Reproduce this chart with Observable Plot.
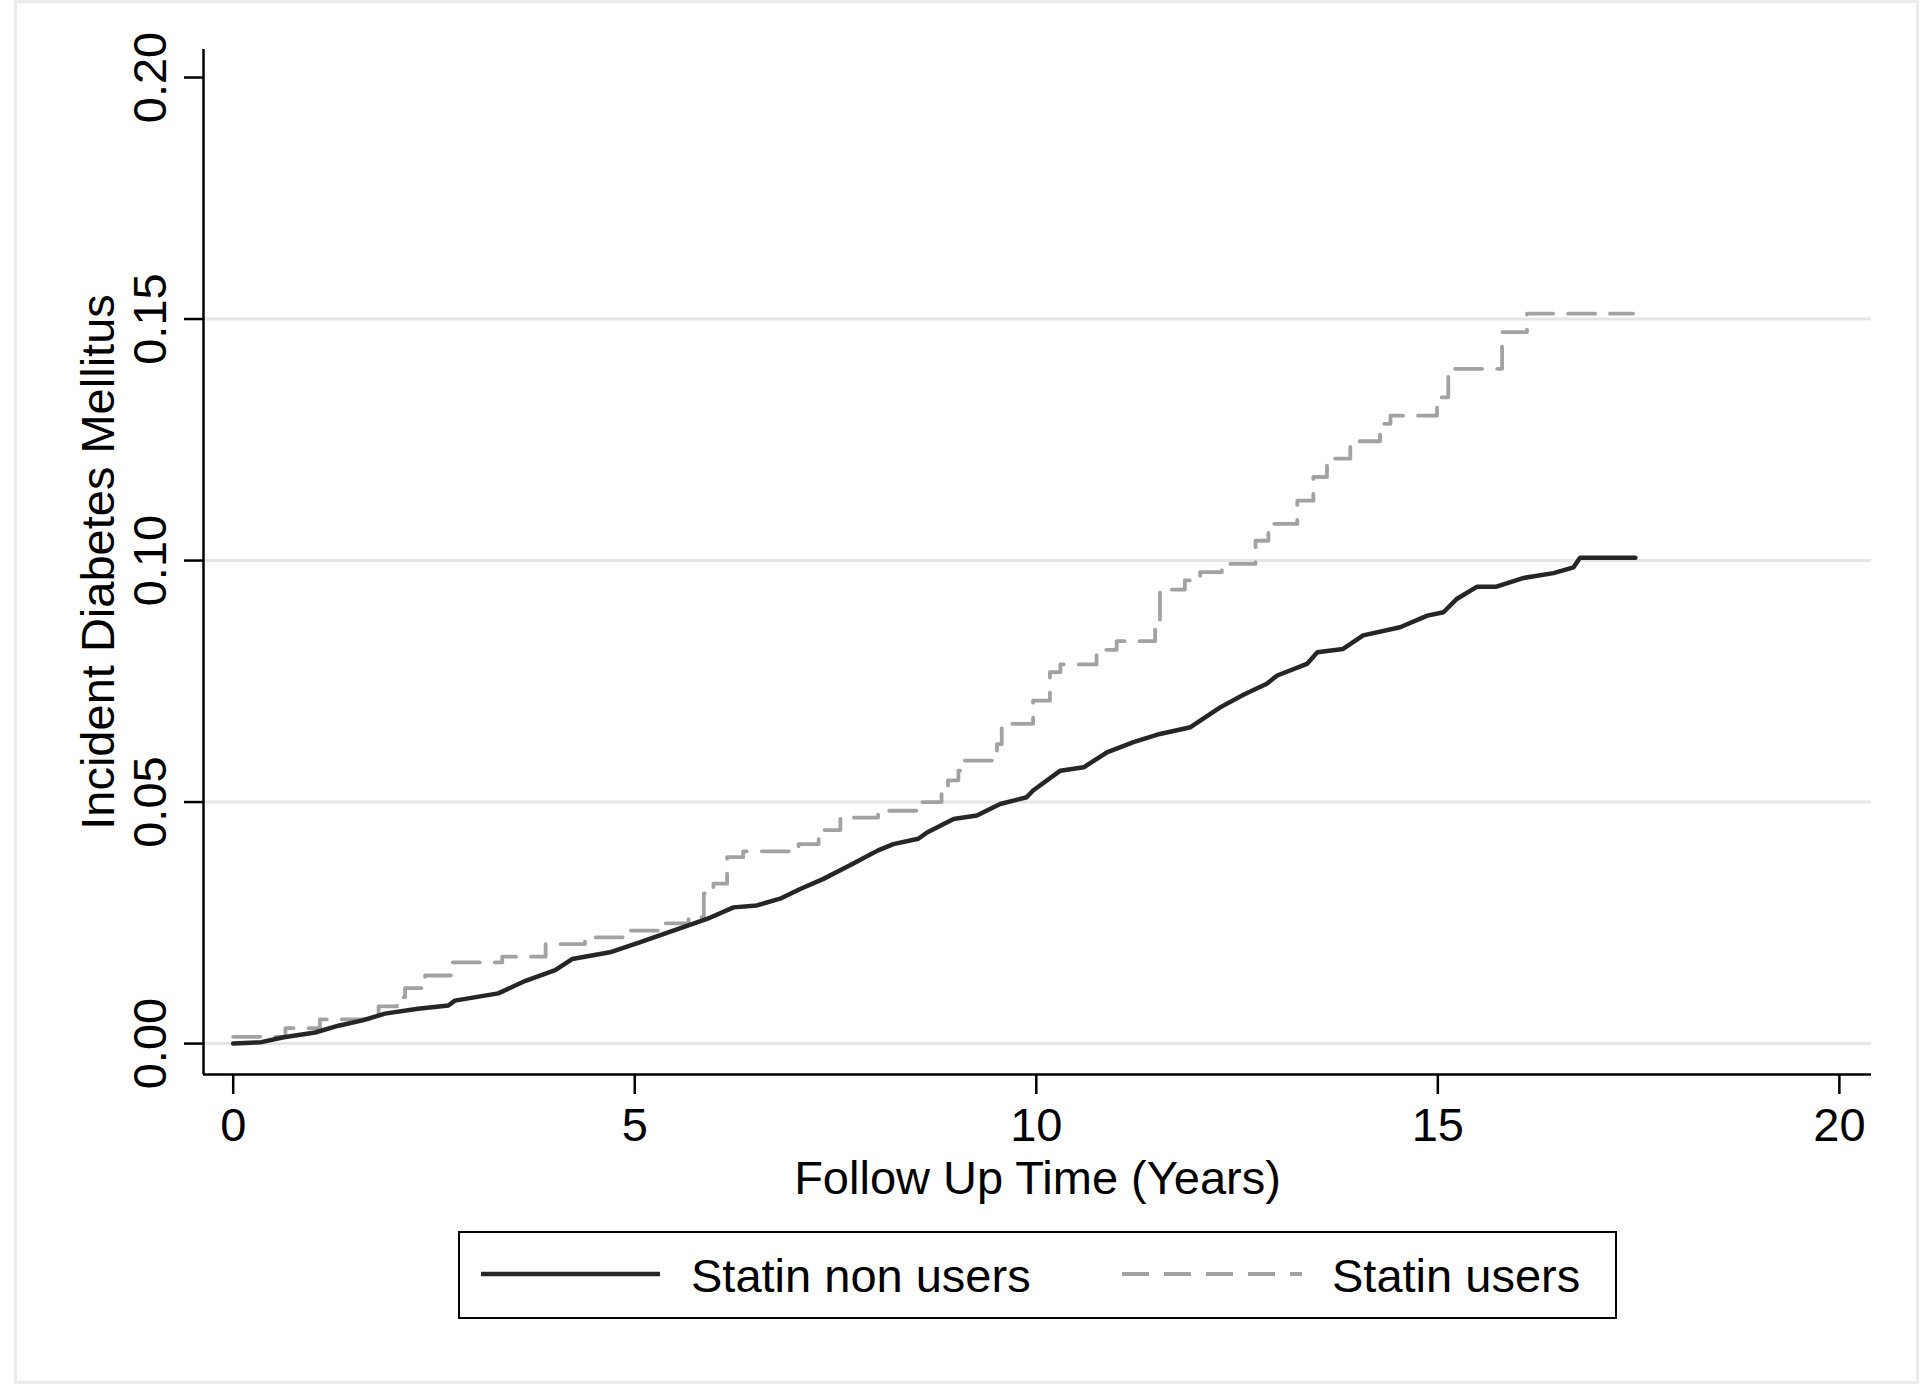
<!DOCTYPE html>
<html>
<head>
<meta charset="utf-8">
<script src="https://cdn.jsdelivr.net/npm/d3@7"></script>
<script src="https://cdn.jsdelivr.net/npm/@observablehq/plot@0.6"></script>
<style>
  html, body { margin: 0; padding: 0; background: #fff; }
  #wrap { position: relative; width: 1920px; height: 1385px; font-family: "Liberation Sans", Arial, Helvetica, sans-serif; }
  #border { position: absolute; left: 14px; top: 0px; width: 1905px; height: 1384px; border: 3px solid #ebebeb; box-sizing: border-box; pointer-events: none; }
  #legend { position: absolute; left: 458px; top: 1231px; width: 1159px; height: 88px; border: 2.5px solid #000; box-sizing: border-box; background: #fff; }
  #legend svg { position: absolute; left: 0; top: 0; }
</style>
</head>
<body>
<div id="wrap">
  <div id="chart"></div>
  <div id="border"></div>
  <div id="legend"></div>
</div>
<script>
// ---- Data ----
const seriesNames = ["Statin non users", "Statin users"];

// Statin non users: cumulative incidence
const nonUsersTime = [0, 0.35, 0.63, 1.02, 1.31, 1.61, 1.89, 2.30, 2.68, 2.76, 3.30, 3.64, 4.01, 4.22, 4.69, 5.07, 5.48, 5.90, 6.23, 6.52, 6.81, 7.06, 7.35, 7.68, 8.03, 8.22, 8.53, 8.64, 8.97, 9.26, 9.55, 9.88, 9.96, 10.30, 10.59, 10.88, 11.21, 11.54, 11.92, 12.29, 12.58, 12.87, 13.00, 13.37, 13.50, 13.82, 14.07, 14.53, 14.87, 15.07, 15.24, 15.49, 15.73, 16.07, 16.44, 16.69, 16.77, 17.46];
const nonUsersValue = [0, 0.0003, 0.0013, 0.0023, 0.0037, 0.0048, 0.0062, 0.0072, 0.0079, 0.0089, 0.0104, 0.0130, 0.0152, 0.0175, 0.0189, 0.0210, 0.0234, 0.0258, 0.0282, 0.0286, 0.0300, 0.0320, 0.0341, 0.0369, 0.0400, 0.0413, 0.0424, 0.0437, 0.0465, 0.0472, 0.0496, 0.0510, 0.0524, 0.0565, 0.0572, 0.0603, 0.0624, 0.0641, 0.0655, 0.0696, 0.0722, 0.0745, 0.0762, 0.0786, 0.0810, 0.0817, 0.0845, 0.0862, 0.0886, 0.0893, 0.0921, 0.0946, 0.0946, 0.0964, 0.0974, 0.0986, 0.1006, 0.1006];

// Statin users (step function)
const usersTime = [0, 0.65, 1.08, 1.81, 2.04, 2.14, 2.39, 2.72, 3.35, 3.89, 4.38, 4.94, 5.34, 5.67, 5.86, 5.98, 6.15, 6.35, 7.04, 7.29, 7.56, 8.03, 8.58, 8.82, 8.90, 9.03, 9.07, 9.51, 9.57, 9.96, 10.17, 10.30, 10.75, 11.00, 11.48, 11.54, 11.85, 12.04, 12.31, 12.73, 12.89, 13.25, 13.45, 13.62, 13.91, 14.28, 14.41, 14.99, 15.13, 15.80, 16.11, 17.43];
const usersValue = [0.0014, 0.0032, 0.0050, 0.0077, 0.0096, 0.0115, 0.0141, 0.0168, 0.0180, 0.0206, 0.0220, 0.0234, 0.0249, 0.0262, 0.0311, 0.0331, 0.0386, 0.0398, 0.0413, 0.0442, 0.0468, 0.0482, 0.0500, 0.0531, 0.0545, 0.0565, 0.0586, 0.0620, 0.0662, 0.0710, 0.0769, 0.0785, 0.0815, 0.0833, 0.0870, 0.0940, 0.0959, 0.0976, 0.0993, 0.1041, 0.1076, 0.1124, 0.1173, 0.1211, 0.1247, 0.1283, 0.1300, 0.1338, 0.1397, 0.1473, 0.1511, 0.1511];

const xTicks = [0, 5, 10, 15, 20];
const yTicks = [0, 0.05, 0.10, 0.15, 0.20];
const yGrid = [0, 0.05, 0.10, 0.15];
const xTitle = "Follow Up Time (Years)";
const yTitle = "Incident Diabetes Mellitus";

// ---- Styling ----
const xDomain = [-0.37, 20.4];
const yDomain = [-0.0064, 0.2058];
const styles = {
  "Statin non users": {stroke: "#262626", width: 4.5, dash: null},
  "Statin users": {stroke: "#a2a2a2", width: 3.8, dash: "27,15"}
};
const FONT = "'Liberation Sans', Arial, Helvetica, sans-serif";

const nonUsers = nonUsersTime.map((t, i) => ({t, v: nonUsersValue[i], s: seriesNames[0]}));
const users = usersTime.map((t, i) => ({t, v: usersValue[i], s: seriesNames[1]}));

const chart = Plot.plot({
  width: 1920,
  height: 1385,
  marginLeft: 203,
  marginRight: 49,
  marginTop: 49,
  marginBottom: 311,
  style: {fontFamily: FONT, fontSize: "47px", color: "#000", background: "transparent", overflow: "visible"},
  x: {domain: xDomain},
  y: {domain: yDomain},
  marks: [
    Plot.gridY(yGrid, {stroke: "#e6e6e6", strokeOpacity: 1, strokeWidth: 3}),
    Plot.ruleX([xDomain[0]], {stroke: "#000", strokeWidth: 2.5}),
    Plot.ruleY([yDomain[0]], {stroke: "#000", strokeWidth: 2.5}),
    Plot.line(users, {x: "t", y: "v", curve: "step-after", stroke: styles["Statin users"].stroke, strokeWidth: styles["Statin users"].width, strokeDasharray: styles["Statin users"].dash}),
    Plot.line(nonUsers, {x: "t", y: "v", curve: "linear", stroke: styles["Statin non users"].stroke, strokeWidth: styles["Statin non users"].width, strokeLinejoin: "miter"}),
    Plot.axisX(xTicks, {
      tickSize: 20, tickPadding: 13, strokeWidth: 2.5, fontSize: 47,
      tickFormat: d => String(d),
      label: xTitle, labelAnchor: "center", labelArrow: "none", labelOffset: 119
    }),
    Plot.axisY(yTicks, {
      tickSize: 19, tickPadding: 19, tickRotate: -90, strokeWidth: 2.5, fontSize: 47,
      tickFormat: d3.format(".2f"),
      label: yTitle, labelAnchor: "center", labelArrow: "none", labelOffset: 123
    })
  ]
});
document.getElementById("chart").appendChild(chart);

// ---- Legend ----
const legendItems = [
  {name: seriesNames[0], x0: 21, x1: 200, tx: 231},
  {name: seriesNames[1], x0: 662, x1: 842, tx: 872}
];
const lsvg = d3.select("#legend").append("svg")
  .attr("width", 1154).attr("height", 83)
  .style("font-family", FONT).style("font-size", "47px");
legendItems.forEach(it => {
  const st = styles[it.name];
  lsvg.append("line")
    .attr("x1", it.x0).attr("x2", it.x1).attr("y1", 41).attr("y2", 41)
    .attr("stroke", st.stroke).attr("stroke-width", st.width)
    .attr("stroke-dasharray", st.dash);
  lsvg.append("text")
    .attr("x", it.tx).attr("y", 59)
    .attr("fill", "#000")
    .text(it.name);
});
</script>
</body>
</html>
